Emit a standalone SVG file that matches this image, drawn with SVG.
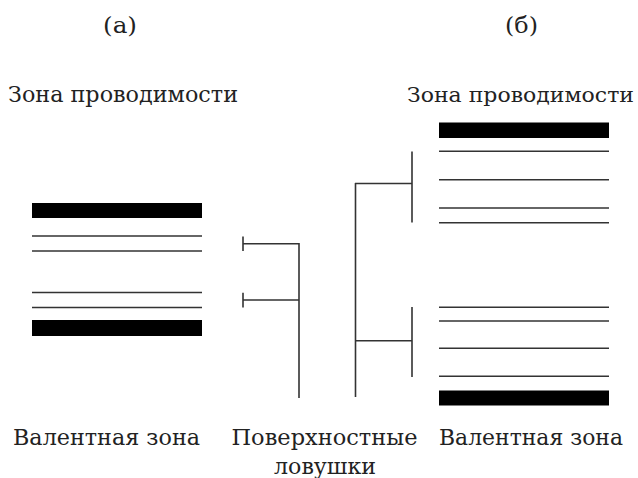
<svg xmlns="http://www.w3.org/2000/svg" width="638" height="478" viewBox="0 0 638 478">
<style>
.t{font-size:23px;fill:#222}
.l{stroke:#333;stroke-width:1.6;fill:none}
.b{fill:#000}
</style>
<rect width="638" height="478" fill="#fff"/>
<g font-family="'DejaVu Serif', 'Liberation Serif', serif">
<text class="t" x="103" y="32.5" textLength="34" lengthAdjust="spacingAndGlyphs">(а)</text>
<text class="t" x="505" y="32.5" textLength="33" lengthAdjust="spacingAndGlyphs">(б)</text>
<g id="panel-a">
<text class="t" x="8" y="101.5" textLength="230" lengthAdjust="spacingAndGlyphs">Зона проводимости</text>
<rect class="b" x="32" y="203" width="170" height="15"/>
<line class="l" x1="32" y1="236" x2="202" y2="236"/>
<line class="l" x1="32" y1="251" x2="202" y2="251"/>
<line class="l" x1="32" y1="292.5" x2="202" y2="292.5"/>
<line class="l" x1="32" y1="307.5" x2="202" y2="307.5"/>
<rect class="b" x="32" y="320" width="170" height="16"/>
<text class="t" x="13" y="445" textLength="187" lengthAdjust="spacingAndGlyphs">Валентная зона</text>
</g>
<g id="traps">
<text class="t" x="231.5" y="445" textLength="186" lengthAdjust="spacingAndGlyphs">Поверхностные</text>
<text class="t" x="274" y="474" textLength="102" lengthAdjust="spacingAndGlyphs">ловушки</text>
</g>
<g id="connectors">
<path class="l" d="M243 236.5V251M243 243.7H299M243 292.7V307.5M243 300H299M299 243V398"/>
<path class="l" d="M355.5 183V397M355 183.5H412M412 151.5V222.5M355 340.7H412M412 307V377"/>
</g>
<g id="panel-b">
<text class="t" x="407" y="101.5" style="font-size:21px" textLength="227" lengthAdjust="spacingAndGlyphs">Зона проводимости</text>
<rect class="b" x="439" y="122.5" width="170" height="15.5"/>
<line class="l" x1="439" y1="151.3" x2="609" y2="151.3"/>
<line class="l" x1="439" y1="179.7" x2="609" y2="179.7"/>
<line class="l" x1="439" y1="208" x2="609" y2="208"/>
<line class="l" x1="439" y1="222.7" x2="609" y2="222.7"/>
<line class="l" x1="439" y1="307.3" x2="609" y2="307.3"/>
<line class="l" x1="439" y1="321" x2="609" y2="321"/>
<line class="l" x1="439" y1="348.3" x2="609" y2="348.3"/>
<line class="l" x1="439" y1="376.3" x2="609" y2="376.3"/>
<rect class="b" x="439" y="390.5" width="170" height="15"/>
<text class="t" x="439" y="445" textLength="184" lengthAdjust="spacingAndGlyphs">Валентная зона</text>
</g>
</g>
</svg>
